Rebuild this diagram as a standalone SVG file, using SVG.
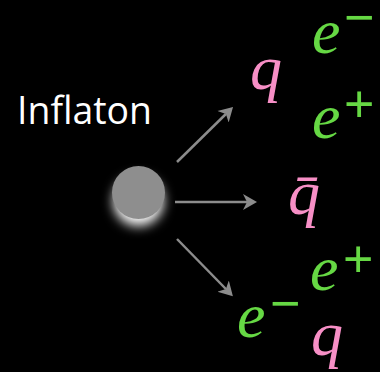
<svg xmlns="http://www.w3.org/2000/svg" width="380" height="372" viewBox="0 0 380 372">
<style>
.lbl{font-family:"Open Sans","Liberation Sans",sans-serif;fill:#ffffff;font-size:38px}
.m{font-family:"Liberation Serif","Times New Roman",serif;font-style:italic;font-size:64px}
.s{font-family:"Liberation Sans",Arial,sans-serif;font-size:52px}
.pink{fill:#f78fc6}
.green{fill:#66d844}
.arr{stroke:#8c8c8c;stroke-width:2.5;fill:none;marker-end:url(#ah)}
</style>
<defs>
<marker id="ah" markerUnits="userSpaceOnUse" markerWidth="16" markerHeight="18" refX="4" refY="0" viewBox="0 -9 16 18" orient="auto">
<path d="M0,-8 L14,0 L0,8 L4,0 Z" fill="#8c8c8c"/>
</marker>
<filter id="glow" x="-50%" y="-50%" width="200%" height="200%">
<feGaussianBlur stdDeviation="6"/>
</filter>
</defs>
<rect x="0" y="0" width="380" height="372" fill="#000"/>
<g id="inflaton">
<text class="lbl" x="17" y="124" textLength="135" lengthAdjust="spacingAndGlyphs">Inflaton</text>
<circle cx="138.5" cy="201" r="25" fill="#ffffff" filter="url(#glow)"/>
<circle cx="138.5" cy="192.5" r="26.5" fill="#8e8e8e"/>
</g>
<g id="connectors">
<line class="arr" x1="177" y1="162" x2="225.9" y2="114"/>
<line class="arr" x1="175" y1="202" x2="247" y2="202"/>
<line class="arr" x1="177" y1="239" x2="225.9" y2="289"/>
</g>
<g id="top-group">
<text class="m pink" x="250" y="89">q</text>
<text class="m green" x="312" y="53">e</text>
<text class="s green" x="344" y="35">−</text>
<text class="m green" x="312" y="138">e</text>
<text class="s green" x="344" y="122">+</text>
</g>
<g id="middle-group">
<text class="m pink" x="288" y="214">q̄</text>
</g>
<g id="bottom-group">
<text class="m green" x="310" y="290">e</text>
<text class="s green" x="343" y="277">+</text>
<text class="m green" x="237" y="337">e</text>
<text class="s green" x="270" y="321">−</text>
<text class="m pink" x="311" y="355">q</text>
</g>
</svg>
